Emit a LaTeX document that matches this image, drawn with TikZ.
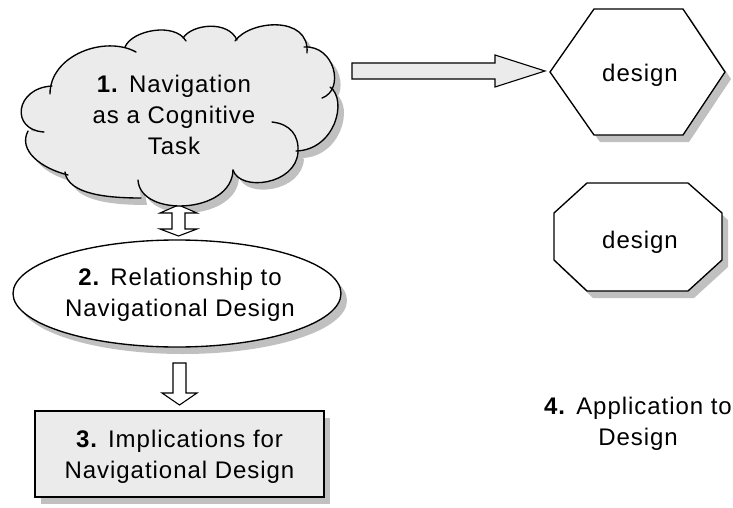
\documentclass[tikz,border=0pt]{standalone}
\usepackage{fontspec}
\setmainfont{Liberation Sans}[LetterSpace=4]
\usetikzlibrary{shapes.geometric,shadows}

\definecolor{paleGray}{HTML}{EBEBEB}
\definecolor{shadeGray}{HTML}{C0C0C0}

% outer boundary of the cloud (used for its fill and its shadow)
\newcommand\cloudfillpath{(50,94) .. controls (50,55) and (105,35) .. (136,52)
  -- (125,47) .. controls (132,30) and (175,22) .. (186,41)
  -- (183,38) .. controls (192,24) and (228,20) .. (237,40)
  -- (235,41) .. controls (250,20) and (310,15) .. (307,53)
  -- (304,47) .. controls (335,45) and (345,90) .. (322,98)
  -- (330,87) .. controls (348,100) and (335,150) .. (296,151)
  -- (298,152) .. controls (296,185) and (240,192) .. (233,170)
  .. controls (232,214) and (140,218) .. (138,180)
  -- (141,198) .. controls (110,198) and (68,195) .. (65,172)
  -- (68,175) .. controls (40,168) and (18,150) .. (28,131)
  -- (44,132) .. controls (10,130) and (15,88) .. (52,86) -- cycle}

\newcommand\hexpath{(550,72) -- (594,9) -- (683,9) -- (725,72) -- (683,135) -- (594,135) -- cycle}
\newcommand\octpath{(554,213) -- (587,183) -- (688,183) -- (722,213) -- (722,260) -- (688,291) -- (587,291) -- (554,260) -- cycle}

\begin{document}
\begin{tikzpicture}[x=1pt,y=-1pt,
  outline/.style={draw=black,line width=1.35pt,line join=miter},
  txt/.style={font=\fontsize{24}{31}\selectfont,align=center,inner sep=0pt},
  castshadow/.style={fill=shadeGray,draw=none},
  boxshadow/.style={general shadow={shadow xshift=6pt,shadow yshift=-7pt,fill=shadeGray,draw=none}},
  blockarrow/.style={outline,line width=1.1pt,fill=white},
]
\useasboundingbox (0,0) rectangle (733,508);

% shadows of the hand-drawn outlines
\fill[castshadow,shift={(6,7)}] \cloudfillpath;
\fill[castshadow,shift={(6,7)}] \hexpath;
\fill[castshadow,shift={(6,7)}] \octpath;

% two-way arrow between the cloud and the ellipse
\coordinate (dtop) at (178.5,205);
\draw[blockarrow] (dtop) -- ++(18.5,8) -- ++(-12,0) -- ++(0,16) -- ++(12,0)
  -- ++(-18.5,7) -- ++(-18.5,-7) -- ++(12,0) -- ++(0,-16) -- ++(-12,0) -- cycle;

% cloud
\fill[paleGray] \cloudfillpath;
\begin{scope}[outline,line cap=round]
\draw (50,94) .. controls (50,55) and (105,35) .. (136,52);
\draw (125,47) .. controls (132,30) and (175,22) .. (186,41);
\draw (183,38) .. controls (192,24) and (228,20) .. (237,40);
\draw (235,41) .. controls (250,20) and (310,15) .. (307,53);
\draw (304,47) .. controls (335,45) and (345,90) .. (322,98);
\draw (330,87) .. controls (348,100) and (335,150) .. (296,151);
\draw (272,122) .. controls (290,124) and (299,135) .. (298,152)
  .. controls (296,185) and (240,192) .. (233,170);
\draw (233,170) .. controls (232,214) and (140,218) .. (138,180);
\draw (141,198) .. controls (110,198) and (68,195) .. (65,172);
\draw (68,175) .. controls (40,168) and (18,150) .. (28,131);
\draw (44,132) .. controls (10,130) and (15,88) .. (52,86);
\end{scope}
\node[txt] (navTask) at (174,115) {\textbf{1.} Navigation\\as a Cognitive\\Task};

% ellipse
\node[outline,ellipse,fill=white,boxshadow,minimum width=328pt,minimum height=107pt]
  (relation) at (177,293.5) {};
\node[txt] (relationText) at (180,294.5) {\textbf{2.} Relationship to\\Navigational Design};

% one-way arrow down to the box
\coordinate (dmid) at (179.5,363);
\draw[blockarrow] (dmid) ++(-6.5,0) -- ++(13,0) -- ++(0,30) -- ++(11,0)
  -- ++(-17.5,12) -- ++(-17.5,-12) -- ++(11,0) -- cycle;

% box
\node[outline,rectangle,fill=paleGray,boxshadow,minimum width=289pt,minimum height=86pt]
  (implications) at (179.5,454) {};
\node[txt] (implicationsText) at (179.5,457) {\textbf{3.} Implications for\\Navigational Design};

% arrow to the hexagon
\coordinate (rtail) at (352,71);
\draw[outline,line width=1.1pt,fill=paleGray] (rtail) ++(0,-8) -- ++(143,0) -- ++(0,-8)
  -- ++(50,16) -- ++(-50,16) -- ++(0,-8) -- ++(-143,0) -- cycle;

% hexagon and octagon
\draw[outline,fill=white] \hexpath;
\draw[outline,fill=white] \octpath;
\node[txt,anchor=base] (hexLabel) at (640,81.7) {design};
\node[txt,anchor=base] (octLabel) at (640,248.3) {design};

% application text
\node[txt] (application) at (638,424) {\textbf{4.} Application to\\Design};
\end{tikzpicture}
\end{document}
